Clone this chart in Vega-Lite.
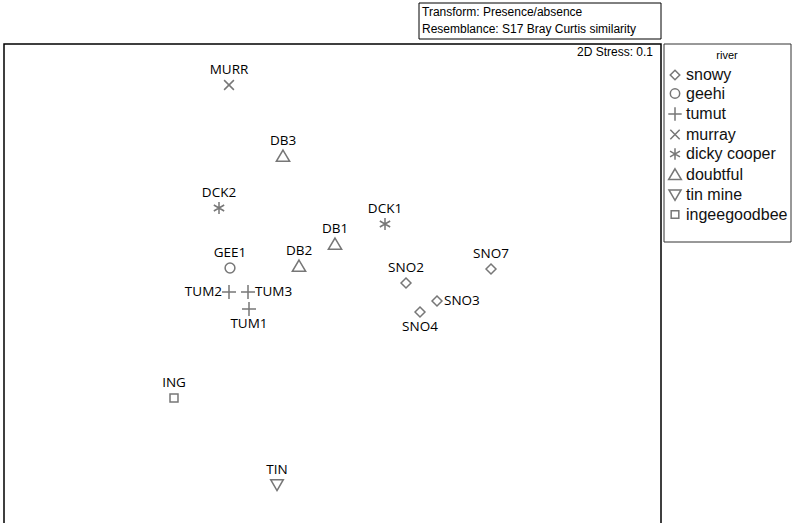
{
  "$schema": "https://vega.github.io/schema/vega-lite/v6.json",
  "width": 657,
  "height": 490,
  "autosize": {"type": "none"},
  "padding": {"left": 4, "top": 44, "right": 131, "bottom": 0},
  "background": "white",
  "view": {"stroke": "#000", "strokeWidth": 1.5},
  "config": {"axis": {"disable": true}},
  "data": {"values": [
    {"site": "MURR", "river": "murray", "mds1": -0.505, "mds2": 0.975},
    {"site": "DB3", "river": "doubtful", "mds1": -0.235, "mds2": 0.62},
    {"site": "DCK2", "river": "dicky cooper", "mds1": -0.555, "mds2": 0.36},
    {"site": "DCK1", "river": "dicky cooper", "mds1": 0.275, "mds2": 0.28},
    {"site": "DB1", "river": "doubtful", "mds1": 0.025, "mds2": 0.18},
    {"site": "DB2", "river": "doubtful", "mds1": -0.155, "mds2": 0.07},
    {"site": "GEE1", "river": "geehi", "mds1": -0.5, "mds2": 0.06},
    {"site": "TUM2", "river": "tumut", "mds1": -0.505, "mds2": -0.06},
    {"site": "TUM3", "river": "tumut", "mds1": -0.41, "mds2": -0.06},
    {"site": "TUM1", "river": "tumut", "mds1": -0.405, "mds2": -0.145},
    {"site": "SNO2", "river": "snowy", "mds1": 0.38, "mds2": -0.015},
    {"site": "SNO7", "river": "snowy", "mds1": 0.805, "mds2": 0.055},
    {"site": "SNO3", "river": "snowy", "mds1": 0.535, "mds2": -0.105},
    {"site": "SNO4", "river": "snowy", "mds1": 0.45, "mds2": -0.16},
    {"site": "ING", "river": "ingeegoodbee", "mds1": -0.78, "mds2": -0.59},
    {"site": "TIN", "river": "tin mine", "mds1": -0.265, "mds2": -1.025}
  ]},
  "layer": [
    {
      "data": {"values": [{}]},
      "mark": {"type": "rect", "fill": "white", "stroke": "#333333", "strokeWidth": 1},
      "encoding": {
        "x": {"datum": 1.67, "type": "quantitative"},
        "x2": {"datum": 2.305},
        "y": {"datum": 1.18, "type": "quantitative"},
        "y2": {"datum": 0.19}
      }
    },
    {
      "mark": {"type": "point", "filled": false, "strokeWidth": 1.5, "color": "#777777", "size": 196, "opacity": 1},
      "encoding": {
        "x": {"field": "mds1", "type": "quantitative", "scale": {"domain": [-1.63, 1.655], "nice": false, "zero": false}, "axis": null},
        "y": {"field": "mds2", "type": "quantitative", "scale": {"domain": [-1.27, 1.18], "nice": false, "zero": false}, "axis": null},
        "shape": {
          "field": "river", "type": "nominal",
          "scale": {
            "domain": ["snowy", "geehi", "tumut", "murray", "dicky cooper", "doubtful", "tin mine", "ingeegoodbee"],
            "range": [
              "M0,-0.71L0.71,0L0,0.71L-0.71,0Z",
              "M0.7,0A0.7,0.7,0,1,1,-0.7,0A0.7,0.7,0,1,1,0.7,0Z",
              "M-1,0H1M0,-1V1",
              "M-0.7,-0.7L0.7,0.7M-0.7,0.7L0.7,-0.7",
              "M0,-0.85V0.85M-0.74,-0.43L0.74,0.43M-0.74,0.43L0.74,-0.43",
              "M0,-0.85L0.95,0.75L-0.95,0.75Z",
              "M0,0.8L0.9,-0.75L-0.9,-0.75Z",
              "M-0.57,-0.57H0.57V0.57H-0.57Z"
            ]
          },
          "legend": {
            "title": "river",
            "orient": "none",
            "legendX": 657,
            "legendY": 0,
            "padding": 6,
            "titleAnchor": "middle",
            "titleFont": "Arial",
            "titleFontSize": 11,
            "titleFontWeight": "normal",
            "titleColor": "#000",
            "titlePadding": 6,
            "labelFont": "Arial",
            "labelFontSize": 16,
            "labelColor": "#111",
            "labelOffset": 3,
            "labelLimit": 200,
            "rowPadding": 2.5,
            "symbolSize": 180,
            "symbolStrokeColor": "#777777",
            "symbolFillColor": "transparent",
            "symbolStrokeWidth": 1.5
          }
        }
      }
    },
    {
      "transform": [{"filter": {"not": {"field": "site", "oneOf": ["TUM1", "TUM2", "TUM3", "SNO3", "SNO4"]}}}],
      "mark": {"type": "text", "font": "Open Sans", "fontSize": 13.5, "color": "#000", "baseline": "middle", "align": "center", "dy": -15},
      "encoding": {
        "x": {"field": "mds1", "type": "quantitative"},
        "y": {"field": "mds2", "type": "quantitative"},
        "text": {"field": "site"}
      }
    },
    {
      "transform": [{"filter": {"field": "site", "oneOf": ["TUM2"]}}],
      "mark": {"type": "text", "font": "Open Sans", "fontSize": 13.5, "color": "#000", "baseline": "middle", "align": "right", "dx": -7},
      "encoding": {
        "x": {"field": "mds1", "type": "quantitative"},
        "y": {"field": "mds2", "type": "quantitative"},
        "text": {"field": "site"}
      }
    },
    {
      "transform": [{"filter": {"field": "site", "oneOf": ["TUM3", "SNO3"]}}],
      "mark": {"type": "text", "font": "Open Sans", "fontSize": 13.5, "color": "#000", "baseline": "middle", "align": "left", "dx": 7},
      "encoding": {
        "x": {"field": "mds1", "type": "quantitative"},
        "y": {"field": "mds2", "type": "quantitative"},
        "text": {"field": "site"}
      }
    },
    {
      "transform": [{"filter": {"field": "site", "oneOf": ["TUM1", "SNO4"]}}],
      "mark": {"type": "text", "font": "Open Sans", "fontSize": 13.5, "color": "#000", "baseline": "middle", "align": "center", "dy": 15},
      "encoding": {
        "x": {"field": "mds1", "type": "quantitative"},
        "y": {"field": "mds2", "type": "quantitative"},
        "text": {"field": "site"}
      }
    },
    {
      "data": {"values": [{}]},
      "mark": {"type": "text", "text": "2D Stress: 0.1", "font": "Arial", "fontWeight": "normal", "fontSize": 12, "color": "#000", "align": "right", "baseline": "middle"},
      "encoding": {
        "x": {"datum": 1.615, "type": "quantitative"},
        "y": {"datum": 1.14, "type": "quantitative"}
      }
    },
    {
      "data": {"values": [{}]},
      "mark": {"type": "rect", "fill": "white", "stroke": "#000", "strokeWidth": 1},
      "encoding": {
        "x": {"datum": 0.445, "type": "quantitative"},
        "x2": {"datum": 1.655},
        "y": {"datum": 1.385, "type": "quantitative"},
        "y2": {"datum": 1.205}
      }
    },
    {
      "data": {"values": [{}]},
      "mark": {"type": "text", "text": "Transform: Presence/absence", "font": "Arial", "fontWeight": "normal", "fontSize": 12, "color": "#000", "align": "left", "baseline": "middle"},
      "encoding": {
        "x": {"datum": 0.46, "type": "quantitative"},
        "y": {"datum": 1.34, "type": "quantitative"}
      }
    },
    {
      "data": {"values": [{}]},
      "mark": {"type": "text", "text": "Resemblance: S17 Bray Curtis similarity", "font": "Arial", "fontWeight": "normal", "fontSize": 12, "color": "#000", "align": "left", "baseline": "middle"},
      "encoding": {
        "x": {"datum": 0.46, "type": "quantitative"},
        "y": {"datum": 1.255, "type": "quantitative"}
      }
    }
  ]
}
